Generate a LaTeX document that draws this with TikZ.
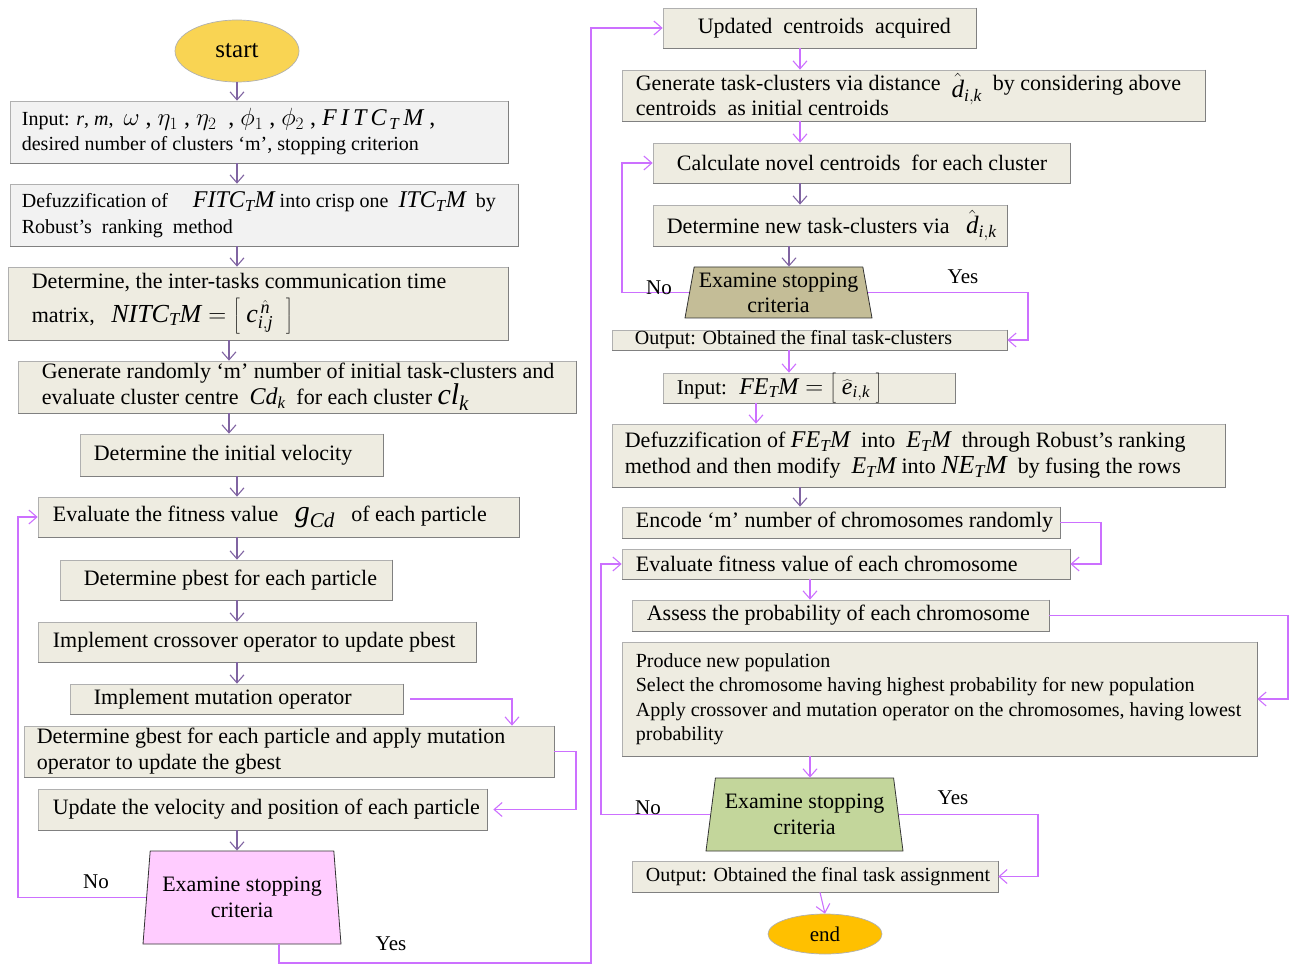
\documentclass[tikz,border=0pt]{standalone}
\usepackage{fontspec}
\setmainfont{Liberation Serif}
\usetikzlibrary{arrows.meta,shapes.geometric,calc}

\definecolor{beige}{HTML}{EEECE1}
\definecolor{paper}{HTML}{F2F2F2}
\definecolor{edge}{HTML}{B0B0B0}
\definecolor{edgedark}{HTML}{808080}
\definecolor{startfill}{HTML}{F9D453}
\definecolor{endfill}{HTML}{FFC000}
\definecolor{pinkfill}{HTML}{FFCCFF}
\definecolor{tanfill}{HTML}{C4BD97}
\definecolor{greenfill}{HTML}{C3D69B}
\definecolor{purp}{HTML}{8064A2}
\definecolor{viol}{HTML}{CC70FF}

\newcommand\fsz[2]{\fontsize{#1}{#2}\selectfont}

% process box: name, extra options, left, top, right, bottom, text inset, font, text
\newcommand\flowbox[9]{%
  \node[box,#2,minimum width={(#5)-(#3)},minimum height={(#6)-(#4)}] (#1)
     at ({((#3)+(#5))/2},{((#4)+(#6))/2}) {};
  \draw[edgedark,line width=0.9] (#1.north east) -- (#1.south east) -- (#1.south west);
  \node[txt,font={#8}] (#1-t) at ([xshift=#7]#1.west) {#9};
}

\begin{document}
\begin{tikzpicture}[x=1pt,y=-1pt,
  box/.style={draw=edge,line width=0.7,fill=beige,inner sep=0},
  txt/.style={align=left,inner sep=0,anchor=west},
  term/.style={ellipse,draw=edge,line width=0.7,inner sep=0},
  decide/.style={trapezium,trapezium stretches body,draw=black!80,line width=0.8,
                 align=center,inner sep=0},
  tip/.style={-{Straight Barb[length=8pt,width=14pt]}},
  flowP/.style={draw=purp,line width=1.1,tip},
  flowV/.style={draw=viol,line width=1.1,tip},
  lbl/.style={inner sep=0,font=\fsz{21}{22}}
]
\useasboundingbox (0,0) rectangle (1290,965);

% ---------------- left column: PSO based clustering ----------------
\node[term,fill=startfill,minimum width=124,minimum height=62,font=\fsz{25}{26}] (start) at (237,51) {start};

\flowbox{in}{fill=paper}{10}{101}{508}{163}{12}{\fsz{20}{25}}{Input: \textit{r}, \textit{m}, \ {\fsz{24}{25}$\omega$ , $\eta_{1}$ , $\eta_{2}$ \ , $\phi_{1}$ , $\phi_{2}$ , $\mathit{F\,I\,T\,C}_{\,\mathit{T}}\,\mathit{M}$ ,}\\desired number of clusters ‘m’, stopping criterion}

\flowbox{dfz}{fill=paper}{10}{184}{518}{246}{12}{\fsz{20}{26}}{Defuzzification of \quad{\fsz{24}{25}$\mathit{FITC}_{\mathit{T}}\mathit{M}$} into crisp one \ {\fsz{24}{25}$\mathit{ITC}_{\mathit{T}}\mathit{M}$} \ by\\Robust’s \ ranking \ method}

\flowbox{itm}{}{8}{267}{508}{340}{24}{\fsz{22}{34}}{Determine, the inter-tasks communication time\\matrix, \ \ {\fsz{26}{26}$\mathit{NITC}_{\mathit{T}}\mathit{M} =\left[\vrule height 16pt depth 11pt width 0pt\ \mathit{c}^{\,\hat{\mathit{n}}}_{\mathit{i,j}}\ \ \right]$}}

\flowbox{gen}{}{18}{361}{576}{413}{24}{\fsz{22}{26}}{Generate randomly ‘m’ number of initial task-clusters and\\evaluate cluster centre \ {\fsz{24}{26}$\mathit{Cd}_{\mathit{k}}$} \ for each cluster {\fsz{30}{26}$\mathit{cl}_{\mathit{k}}$}}

\flowbox{vel}{}{80}{434}{383}{476}{14}{\fsz{22}{26}}{Determine the initial velocity}

\flowbox{fit}{}{38}{497}{519}{537}{15}{\fsz{22}{26}}{Evaluate the fitness value \ \ {\fsz{30}{26}$\mathit{g}_{\mathit{Cd}}$}\ \ \ of each particle}

\flowbox{pb}{}{60}{560}{392}{600}{24}{\fsz{22}{26}}{Determine pbest for each particle}

\flowbox{cro}{}{38}{622}{476}{662}{15}{\fsz{22}{26}}{Implement crossover operator to update pbest}

\flowbox{mut}{}{70}{684}{403}{714}{24}{\fsz{22}{26}}{\raisebox{3pt}{Implement mutation operator}}

\flowbox{gb}{}{24}{726}{554}{777}{13}{\fsz{22}{26}}{Determine gbest for each particle and apply mutation\\operator to update the gbest}

\flowbox{upd}{}{38}{789}{487}{830}{15}{\fsz{22}{26}}{Update the velocity and position of each particle}

\node[decide,fill=pinkfill,minimum width=198,minimum height=93,
      trapezium left angle=80,trapezium right angle=80,font=\fsz{22}{26}] (chkP) at (242,897.5)
      {Examine stopping\\criteria};

% ---------------- right column: K-means refinement and GA ----------------
\flowbox{cen}{}{663}{8}{976}{48}{35}{\fsz{22}{24}}{Updated \ centroids \ acquired}

\flowbox{tc}{}{622}{70}{1205}{121}{14}{\fsz{22}{25}}{Generate task-clusters via distance \ \raisebox{-7pt}[0pt][0pt]{\fsz{25}{25}$\hat{\mathit{d}}_{\mathit{i,k}}$} \ by considering above\\centroids \ as initial centroids}

\flowbox{nc}{}{653}{143}{1070}{183}{24}{\fsz{22}{26}}{Calculate novel centroids \ for each cluster}

\flowbox{ntc}{}{653}{205}{1007}{246}{14}{\fsz{22}{26}}{Determine new task-clusters via \ \ {\fsz{25}{26}$\hat{\mathit{d}}_{\mathit{i,k}}$}}

\node[decide,fill=tanfill,minimum width=187,minimum height=51,
      trapezium left angle=77,trapezium right angle=77,font=\fsz{22}{25}] (chkT) at (778.5,292.5)
      {Examine stopping\\criteria};

\flowbox{oc}{}{612}{330}{1007}{350}{23}{\fsz{20}{20}}{Output: Obtained the final task-clusters}

\flowbox{fe}{}{663}{373}{955}{403}{14}{\fsz{21}{22}}{Input: \ {\fsz{24}{22}$\mathit{FE}_{\mathit{T}}\mathit{M} =\left[\vrule height 16pt depth 9pt width 0pt\ \widehat{\mathit{e}}_{\mathit{i,k}}\ \right]$}}

\flowbox{dfe}{}{612}{424}{1225}{487}{13}{\fsz{22}{26}}{Defuzzification of {\fsz{24}{24}$\mathit{FE}_{\mathit{T}}\mathit{M}$} \ into \ {\fsz{24}{24}$\mathit{E}_{\mathit{T}}\mathit{M}$} \ through Robust’s ranking\\method and then modify \ {\fsz{24}{24}$\mathit{E}_{\mathit{T}}\mathit{M}$} into {\fsz{26}{24}$\mathit{NE}_{\mathit{T}}\mathit{M}$} \ by fusing the rows}

\flowbox{enc}{}{622}{507}{1060}{538}{14}{\fsz{22}{24}}{Encode ‘m’ number of chromosomes randomly}

\flowbox{evc}{}{622}{549}{1070}{579}{14}{\fsz{22}{24}}{Evaluate fitness value of each chromosome}

\flowbox{prb}{}{632}{600}{1049}{631}{15}{\fsz{22}{24}}{Assess the probability of each chromosome}

\flowbox{pop}{}{622}{642}{1257}{756}{14}{\fsz{20}{24.5}}{Produce new population\\Select the chromosome having highest probability for new population\\Apply crossover and mutation operator on the chromosomes, having lowest\\probability}

\node[decide,fill=greenfill,minimum width=197,minimum height=73,
      trapezium left angle=77,trapezium right angle=77,font=\fsz{22}{26}] (chkG) at (804.5,814.5)
      {Examine stopping\\criteria};

\flowbox{oa}{}{632}{861}{998}{892}{14}{\fsz{20}{22}}{Output: Obtained the final task assignment}

\node[term,fill=endfill,minimum width=114,minimum height=40,font=\fsz{21}{22}] (end) at (825,934) {end};

% ---------------- guide coordinates for vertical runs ----------------
\coordinate (cA) at (237,0);
\coordinate (cB) at (229,0);
\coordinate (rA) at (800,0);
\coordinate (rB) at (789,0);
\coordinate (rC) at (756,0);
\coordinate (rD) at (810,0);
\coordinate (rE) at (820,0);
\coordinate (lNo) at (18,0);
\coordinate (lYes) at (279,963);
\coordinate (bridge) at (591,0);
\coordinate (mutX) at (512,0);
\coordinate (gbX) at (576,0);
\coordinate (tNo) at (622,0);
\coordinate (tYes) at (1028,0);
\coordinate (encX) at (1101,0);
\coordinate (prbX) at (1288,0);
\coordinate (gNo) at (601,0);
\coordinate (gYes) at (1038,0);

% ---------------- left column flow ----------------
\draw[flowP] (start.south) -- (cA |- in.north);
\draw[flowP] (cA |- in.south) -- (cA |- dfz.north);
\draw[flowP] (cA |- dfz.south) -- (cA |- itm.north);
\draw[flowP] (cB |- itm.south) -- (cB |- gen.north);
\draw[flowP] (cB |- gen.south) -- (cB |- vel.north);
\draw[flowP] (cA |- vel.south) -- (cA |- fit.north);
\draw[flowP] (cA |- fit.south) -- (cA |- pb.north);
\draw[flowP] (cA |- pb.south) -- (cA |- cro.north);
\draw[flowP] (cA |- cro.south) -- (cA |- mut.north);
\draw[flowP] (cA |- upd.south) -- (cA |- chkP.north);
\draw[flowV,shorten <=7pt] (mut.east) -- (mutX |- mut.east) -- (mutX |- gb.north);
\draw[flowV,shorten >=6pt] (gb.east) -- (gbX |- gb.east) |- (upd.east);
\draw[flowV] (chkP.west) -- (lNo |- chkP.west) |- (fit.west);
\draw[flowV] (lYes |- chkP.south) -- (lYes) -- (bridge |- lYes) |- (cen.west);
\node[lbl] (noP) at (96,882) {No};
\node[lbl] (yesP) at (391,944) {Yes};

% ---------------- right column flow ----------------
\draw[flowV] (rA |- cen.south) -- (rA |- tc.north);
\draw[flowV] (rA |- tc.south) -- (rA |- nc.north);
\draw[flowP] (rA |- nc.south) -- (rA |- ntc.north);
\draw[flowP] (rB |- ntc.south) -- (rB |- chkT.north);
\draw[flowV] (chkT.west) -- (tNo |- chkT.west) |- (nc.west);
\draw[flowV] (chkT.east) -- (tYes |- chkT.east) |- (oc.east);
\draw[flowV] (rB |- oc.south) -- (rB |- fe.north);
\draw[flowV] (rC |- fe.south) -- (rC |- dfe.north);
\draw[flowP] (rA |- dfe.south) -- (rA |- enc.north);
\draw[flowV] (enc.east) -- (encX |- enc.east) |- (evc.east);
\draw[flowV] (rD |- evc.south) -- (rD |- prb.north);
\draw[flowV] (prb.east) -- (prbX |- prb.east) |- (pop.east);
\draw[flowV] (rD |- pop.south) -- (rD |- chkG.north);
\draw[flowV] (chkG.west) -- (gNo |- chkG.west) |- (evc.west);
\draw[flowV] (chkG.east) -- (gYes |- chkG.east) |- (oa.east);
\draw[flowV] (rE |- oa.south) -- (end.north);
\node[lbl] (noT) at (659,288) {No};
\node[lbl] (yesT) at (963,277) {Yes};
\node[lbl] (noG) at (648,808) {No};
\node[lbl] (yesG) at (953,798) {Yes};
\end{tikzpicture}
\end{document}
